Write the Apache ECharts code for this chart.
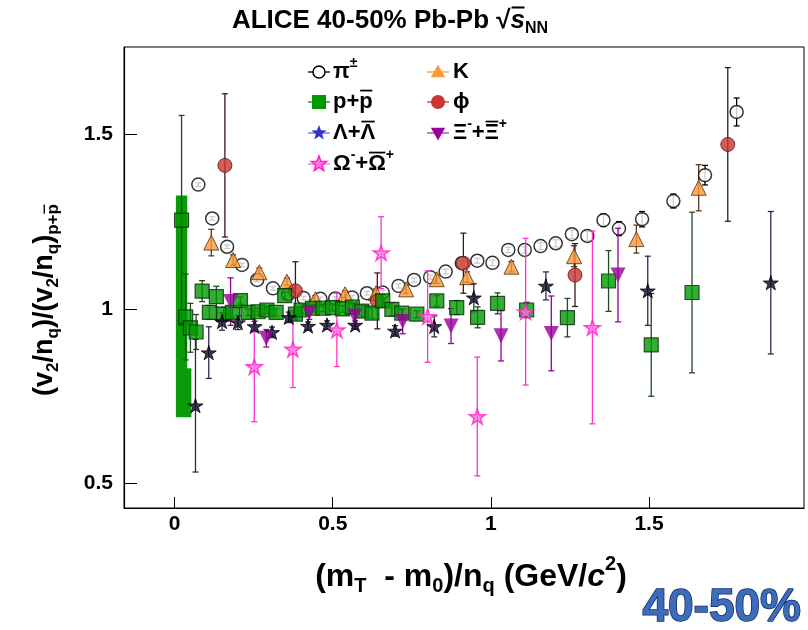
<!DOCTYPE html>
<html><head><meta charset="utf-8">
<script src="https://cdn.jsdelivr.net/npm/echarts@6/dist/echarts.min.js"></script>
<style>html,body{margin:0;padding:0;background:#fff}#c{width:808px;height:630px}</style>
</head><body><div id="c"></div>
<script>
// ---- tick values / labels ----
const xTickValues = [0, 0.5, 1, 1.5];
const xTickLabels = ['0', '0.5', '1', '1.5'];
const yTickValues = [0.5, 1, 1.5];
const yTickLabels = ['0.5', '1', '1.5'];

// ---- data: [x, y, statistical error] ----
const pionPoints = [[0.075,1.356,0.005],[0.119,1.259,0.005],[0.166,1.178,0.005],[0.213,1.126,0.005],[0.261,1.083,0.005],[0.311,1.059,0.005],[0.359,1.042,0.005],[0.408,1.031,0.005],[0.461,1.029,0.005],[0.508,1.030,0.005],[0.561,1.033,0.005],[0.608,1.045,0.005],[0.658,1.047,0.006],[0.708,1.066,0.006],[0.757,1.083,0.006],[0.808,1.091,0.006],[0.857,1.107,0.007],[0.908,1.131,0.007],[0.957,1.138,0.007],[1.005,1.132,0.008],[1.055,1.169,0.008],[1.107,1.169,0.009],[1.157,1.180,0.010],[1.205,1.188,0.010],[1.256,1.214,0.012],[1.305,1.209,0.014],[1.356,1.254,0.018],[1.405,1.230,0.020],[1.478,1.257,0.022],[1.577,1.309,0.020],[1.677,1.383,0.028],[1.777,1.564,0.040]];
const kaonPoints = [[0.116,1.190,0.038],[0.185,1.140,0.015],[0.268,1.105,0.012],[0.355,1.078,0.010],[0.445,1.028,0.010],[0.539,1.042,0.010],[0.637,1.045,0.012],[0.732,1.056,0.012],[0.829,1.085,0.012],[0.925,1.091,0.015],[1.065,1.121,0.015],[1.263,1.151,0.030],[1.460,1.200,0.040],[1.657,1.347,0.066]];
const protonPoints = [[0.022,1.254,0.300],[0.035,0.977,0.123],[0.050,0.946,0.070],[0.068,0.934,0.050],[0.087,1.051,0.030],[0.110,0.990,0.020],[0.132,1.035,0.030],[0.155,0.985,0.020],[0.183,0.990,0.015],[0.208,1.024,0.010],[0.232,0.990,0.010],[0.264,0.992,0.010],[0.292,0.997,0.010],[0.321,0.990,0.010],[0.348,1.038,0.010],[0.382,0.985,0.010],[0.400,0.997,0.010],[0.436,1.002,0.010],[0.469,1.002,0.010],[0.499,1.004,0.010],[0.531,1.000,0.010],[0.562,1.005,0.012],[0.592,0.994,0.015],[0.624,0.988,0.015],[0.658,1.023,0.018],[0.687,0.999,0.018],[0.718,0.988,0.012],[0.766,0.985,0.010],[0.829,1.023,0.015],[0.892,1.004,0.020],[0.958,0.976,0.030],[1.021,1.016,0.030],[1.113,0.997,0.022],[1.242,0.975,0.055],[1.372,1.080,0.087],[1.507,0.897,0.147],[1.636,1.047,0.230]];
const protonSyst = [[0.004,0.040,0.69,1.325],[0.035,0.053,0.69,0.83]]; // [x0,x1,y0,y1]
const phiPoints = [[0.159,1.411,0.205],[0.382,1.052,0.083],[0.641,1.023,0.080],[0.913,1.131,0.086],[1.266,1.097,0.090],[1.749,1.471,0.220]];
const lambdaPoints = [[0.066,0.723,0.190],[0.108,0.875,0.074],[0.150,0.964,0.025],[0.200,0.961,0.020],[0.253,0.950,0.015],[0.308,0.933,0.015],[0.361,0.976,0.015],[0.422,0.951,0.012],[0.482,0.954,0.012],[0.571,0.954,0.012],[0.697,0.937,0.015],[0.821,0.950,0.030],[0.946,1.032,0.040],[1.174,1.066,0.040],[1.496,1.052,0.099],[1.885,1.075,0.204]];
const xiPoints = [[0.177,1.021,0.068],[0.290,0.916,0.025],[0.426,0.990,0.020],[0.569,0.980,0.030],[0.721,0.964,0.035],[0.874,0.951,0.050],[1.032,0.923,0.072],[1.191,0.930,0.107],[1.402,1.097,0.134]];
const omegaPoints = [[0.252,0.835,0.158],[0.374,0.885,0.110],[0.513,0.940,0.105],[0.653,1.161,0.103],[0.800,0.978,0.131],[0.957,0.692,0.170],[1.110,0.992,0.210],[1.321,0.947,0.276]];

const FONT = 'Liberation Sans, Arial, sans-serif';
const STAR = 'path://M50,0 L61.2,34.5 L97.6,34.5 L68.2,55.9 L79.4,90.5 L50,69.1 L20.6,90.5 L31.8,55.9 L2.4,34.5 L38.8,34.5 Z';

function errRender(color, cap) {
  return function (params, api) {
    const x = api.value(0), y = api.value(1), e = api.value(2);
    const t = api.coord([x, y + e]), b = api.coord([x, y - e]);
    const s = { stroke: color, lineWidth: 1.3 };
    return { type: 'group', children: [
      { type: 'line', shape: { x1: t[0], y1: t[1], x2: b[0], y2: b[1] }, style: s },
      { type: 'line', shape: { x1: t[0] - cap, y1: t[1], x2: t[0] + cap, y2: t[1] }, style: s },
      { type: 'line', shape: { x1: b[0] - cap, y1: b[1], x2: b[0] + cap, y2: b[1] }, style: s }
    ]};
  };
}
function errSeries(pts, color, z) {
  return { type: 'custom', data: pts, encode: { x: 0, y: 1 }, renderItem: errRender(color, 3), z: z, clip: true, silent: true };
}
function markSeries(pts, opt, z) {
  return Object.assign({ type: 'scatter', data: pts.map(p => [p[0], p[1]]), z: z, silent: true, symbolKeepAspect: true }, opt);
}

const series = [
  { type: 'custom', data: protonSyst, encode: { x: [0, 1], y: [2, 3] }, z: 1, silent: true, clip: true,
    renderItem: function (params, api) {
      const a = api.coord([api.value(0), api.value(3)]), b = api.coord([api.value(1), api.value(2)]);
      return { type: 'rect', shape: { x: a[0], y: a[1], width: b[0] - a[0], height: b[1] - a[1] }, style: { fill: '#0a9a0a' } };
    } },
  errSeries(pionPoints, '#000', 2),
  markSeries(pionPoints, { symbol: 'circle', symbolSize: 13, itemStyle: { color: '#fff', borderColor: '#000', borderWidth: 1.5 } }, 3),
  errSeries(kaonPoints, '#5a3a1a', 2),
  markSeries(kaonPoints, { symbol: 'triangle', symbolSize: 15, itemStyle: { color: '#ff9933', borderColor: '#4a3010', borderWidth: 1 } }, 3),
  errSeries(phiPoints, '#3a1a1a', 2),
  markSeries(phiPoints, { symbol: 'circle', symbolSize: 14, itemStyle: { color: '#cc3333', borderColor: '#5a1010', borderWidth: 1 } }, 3),
  errSeries(protonPoints, '#1e4a1e', 4),
  markSeries(protonPoints, { symbol: 'rect', symbolSize: 14, itemStyle: { color: '#009900', borderColor: '#0a2a0a', borderWidth: 1.2 } }, 5),
  errSeries(lambdaPoints, '#2a2a50', 4),
  markSeries(lambdaPoints, { symbol: STAR, symbolSize: 15, itemStyle: { color: '#0a0a28', borderColor: '#000', borderWidth: 1 } }, 5),
  errSeries(xiPoints, '#990099', 4),
  markSeries(xiPoints, { symbol: 'triangle', symbolRotate: 180, symbolSize: 15, itemStyle: { color: '#990099' } }, 5),
  errSeries(omegaPoints, '#ff33cc', 4),
  markSeries(omegaPoints, { symbol: STAR, symbolSize: 16, itemStyle: { color: '#ff77dd', borderColor: '#ff22cc', borderWidth: 1.5 } }, 5)
];

// ---- text runs with sub/superscripts and overlines ----
const mctx = document.createElement('canvas').getContext('2d');
function fontStr(size, italic) { return (italic ? 'italic ' : '') + 'bold ' + size + 'px "Liberation Sans", Arial, sans-serif'; }
function measure(t, size, italic) { mctx.font = fontStr(size, italic); return mctx.measureText(t).width; }
// parts: [text, kind('n'|'sub'|'sup'), italic, overline]
function textRun(parts, base, ox, oy, align, rotation) {
  const children = [];
  let x = 0;
  parts.forEach(p => {
    const kind = p[1] || 'n', it = !!p[2], ov = !!p[3];
    const size = kind === 'n' ? base : Math.round(base * 0.62);
    const dy = kind === 'sub' ? base * 0.30 : (kind === 'sup' ? -base * 0.40 : 0);
    const w = measure(p[0], size, it);
    children.push({ type: 'text', x: x, y: dy, style: { text: p[0], font: fontStr(size, it), fill: '#000', align: 'left', verticalAlign: 'middle' } });
    if (ov) {
      const oyy = dy - size * 0.52;
      children.push({ type: 'line', shape: { x1: x + size * 0.04, y1: oyy, x2: x + w - size * 0.02, y2: oyy }, style: { stroke: '#000', lineWidth: Math.max(1.2, size * 0.08) } });
    }
    x += w;
  });
  const shift = align === 'center' ? -x / 2 : (align === 'right' ? -x : 0);
  children.forEach(c => { if (c.type === 'text') c.x += shift; else { c.shape.x1 += shift; c.shape.x2 += shift; } });
  return { type: 'group', x: ox, y: oy, rotation: rotation || 0, z: 20, children: children };
}

// ---- legend drawn as graphics ----
function starPts(cx, cy, r) {
  const pts = [];
  for (let i = 0; i < 10; i++) {
    const rr = i % 2 ? r * 0.42 : r;
    const a = -Math.PI / 2 + i * Math.PI / 5;
    pts.push([cx + rr * Math.cos(a), cy + rr * Math.sin(a)]);
  }
  return pts;
}
function triPts(cx, cy, r, down) {
  const s = down ? -1 : 1;
  return [[cx, cy - s * r], [cx + r * 0.95, cy + s * r * 0.7], [cx - r * 0.95, cy + s * r * 0.7]];
}
function legLine(cx, cy, color) {
  return { type: 'line', z: 19, shape: { x1: cx - 11, y1: cy, x2: cx + 11, y2: cy }, style: { stroke: color, lineWidth: 1.3 } };
}
const LS = 22;
const c1 = 319, c2 = 438, t1 = 333, t2 = 453, rows = [72, 102, 133, 164];
const legend = [
  legLine(c1, rows[0], '#000'), { type: 'circle', z: 20, shape: { cx: c1, cy: rows[0], r: 6 }, style: { fill: '#fff', stroke: '#000', lineWidth: 1.5 } },
  textRun([['π'], ['±', 'sup']], LS, t1, rows[0], 'left'),
  legLine(c1, rows[1], '#1e7a1e'), { type: 'rect', z: 20, shape: { x: c1 - 7, y: rows[1] - 7, width: 14, height: 14 }, style: { fill: '#009900' } },
  textRun([['p+'], ['p', 'n', false, true]], LS, t1, rows[1], 'left'),
  legLine(c1, rows[2], '#6a6ae0'), { type: 'polygon', z: 20, shape: { points: starPts(c1, rows[2], 8) }, style: { fill: '#3333cc' } },
  textRun([['Λ+'], ['Λ', 'n', false, true]], LS, t1, rows[2], 'left'),
  legLine(c1, rows[3], '#ff66dd'), { type: 'polygon', z: 20, shape: { points: starPts(c1, rows[3], 8) }, style: { fill: '#ff77dd', stroke: '#ff22cc', lineWidth: 1.5 } },
  textRun([['Ω'], ['-', 'sup'], ['+'], ['Ω', 'n', false, true], ['+', 'sup']], LS, t1, rows[3], 'left'),
  legLine(c2, rows[0], '#ff9933'), { type: 'polygon', z: 20, shape: { points: triPts(c2, rows[0], 7.5, false) }, style: { fill: '#ff9933' } },
  textRun([['K']], LS, t2, rows[0], 'left'),
  legLine(c2, rows[1], '#cc3333'), { type: 'circle', z: 20, shape: { cx: c2, cy: rows[1], r: 7 }, style: { fill: '#cc3333' } },
  textRun([['ϕ']], LS, t2, rows[1], 'left'),
  legLine(c2, rows[2], '#aa33aa'), { type: 'polygon', z: 20, shape: { points: triPts(c2, rows[2], 7.5, true) }, style: { fill: '#990099' } },
  textRun([['Ξ'], ['-', 'sup'], ['+'], ['Ξ', 'n', false, true], ['+', 'sup']], LS, t2, rows[2], 'left')
];

const titles = [
  textRun([['ALICE 40-50% Pb-Pb '], ['√'], ['s', 'n', true, true], ['NN', 'sub']], 26, 390, 21, 'center'),
  textRun([['(m'], ['T', 'sub'], ['  - m'], ['0', 'sub'], [')/n'], ['q', 'sub'], [' (GeV/'], ['c', 'n', true], ['2', 'sup'], [')']], 32, 471, 577, 'center'),
  textRun([['(v'], ['2', 'sub'], ['/n'], ['q', 'sub'], [')/(v'], ['2', 'sub'], ['/n'], ['q', 'sub'], [')'], ['p+', 'sub'], ['p', 'sub', false, true]], 27, 45, 300, 'center', Math.PI / 2),
  { type: 'text', x: 801, y: 608, z: 20, style: { text: '40-50%', align: 'right', verticalAlign: 'middle',
    font: 'bold 46px "Liberation Sans Narrow", "Liberation Sans", sans-serif',
    fill: '#3d6cb8', stroke: '#0c2a6a', lineWidth: 1.5 } }
];

const chart = echarts.init(document.getElementById('c'), null, { renderer: 'canvas' });
chart.setOption({
  backgroundColor: '#fff',
  animation: false,
  grid: { left: 124, right: 4, top: 47, bottom: 122, show: true, borderColor: '#000', borderWidth: 1 },
  xAxis: {
    type: 'value', min: -0.16, max: 1.99,
    axisLine: { show: true, onZero: false, lineStyle: { color: '#000', width: 1.2 } },
    axisTick: { show: true, inside: true, length: 11, customValues: xTickValues, lineStyle: { color: '#000' } },
    axisLabel: { customValues: xTickValues, margin: 6, fontSize: 21, fontWeight: 'bold', fontFamily: FONT, color: '#000',
      formatter: v => { const i = xTickValues.findIndex(t => Math.abs(t - v) < 1e-6); return i >= 0 ? xTickLabels[i] : ''; } },
    splitLine: { show: false }
  },
  yAxis: {
    type: 'value', min: 0.43, max: 1.75,
    axisLine: { show: true, onZero: false, lineStyle: { color: '#000', width: 1.2 } },
    axisTick: { show: true, inside: true, length: 13, customValues: yTickValues, lineStyle: { color: '#000' } },
    axisLabel: { customValues: yTickValues, margin: 11, fontSize: 21, fontWeight: 'bold', fontFamily: FONT, color: '#000',
      formatter: v => { const i = yTickValues.findIndex(t => Math.abs(t - v) < 1e-6); return i >= 0 ? yTickLabels[i] : ''; } },
    splitLine: { show: false }
  },
  series: series,
  graphic: legend.concat(titles)
});
</script></body></html>
